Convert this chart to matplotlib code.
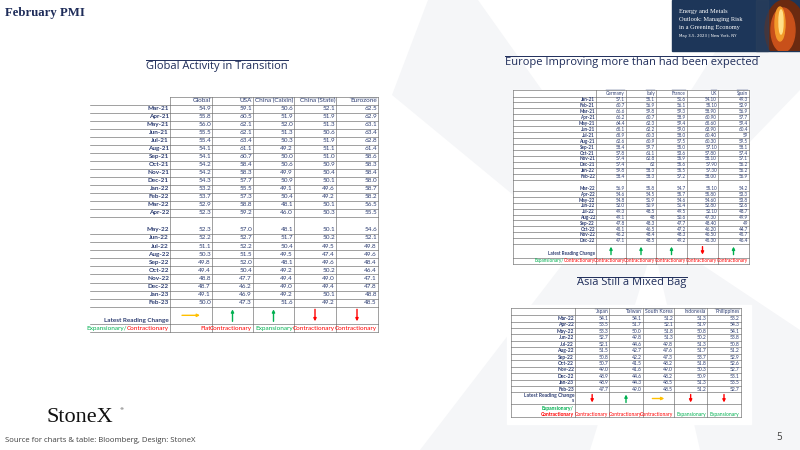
import matplotlib.pyplot as plt
from matplotlib.patches import Polygon, Rectangle, Ellipse

# ---------------- data: global table ----------------
g_rows = ['Mar-21', 'Apr-21', 'May-21', 'Jun-21', 'Jul-21', 'Aug-21', 'Sep-21', 'Oct-21',
          'Nov-21', 'Dec-21', 'Jan-22', 'Feb-22', 'Mar-22', 'Apr-22',
          'May-22', 'Jun-22', 'Jul-22', 'Aug-22', 'Sep-22', 'Oct-22', 'Nov-22', 'Dec-22',
          'Jan-23', 'Feb-23']
g_cols = ['Global', 'USA', 'China (Caixin)', 'China (State)', 'Eurozone']
g_global = [54.9, 55.8, 56.0, 55.5, 55.4, 54.1, 54.1, 54.2, 54.2, 54.3, 53.2, 53.7, 52.9, 52.3,
            52.3, 52.2, 51.1, 50.3, 49.8, 49.4, 48.8, 48.7, 49.1, 50.0]
g_usa = [59.1, 60.5, 62.1, 62.1, 63.4, 61.1, 60.7, 58.4, 58.3, 57.7, 55.5, 57.3, 58.8, 59.2,
         57.0, 52.7, 52.2, 51.5, 52.0, 50.4, 47.7, 46.2, 46.9, 47.3]
g_caixin = [50.6, 51.9, 52.0, 51.3, 50.3, 49.2, 50.0, 50.6, 49.9, 50.9, 49.1, 50.4, 48.1, 46.0,
            48.1, 51.7, 50.4, 49.5, 48.1, 49.2, 49.4, 49.0, 49.2, 51.6]
g_state = [52.1, 51.9, 51.3, 50.6, 51.9, 51.1, 51.0, 50.9, 50.4, 50.1, 49.6, 49.2, 50.1, 50.3,
           50.1, 50.2, 49.5, 47.4, 49.6, 50.2, 49.0, 49.4, 50.1, 49.2]
g_euro = [62.5, 62.9, 63.1, 63.4, 62.8, 61.4, 58.6, 58.3, 58.4, 58.0, 58.7, 58.2, 56.5, 55.5,
          54.6, 52.1, 49.8, 49.6, 48.4, 46.4, 47.1, 47.8, 48.8, 48.5]
g_change = ['flat', 'up', 'up', 'down', 'down']
g_status = ['Flat', 'Contractionary', 'Expansionary', 'Contractionary', 'Contractionary']

# ---------------- data: europe table ----------------
e_rows = ['Jan-21', 'Feb-21', 'Mar-21', 'Apr-21', 'May-21', 'Jun-21', 'Jul-21', 'Aug-21',
          'Sep-21', 'Oct-21', 'Nov-21', 'Dec-21', 'Jan-22', 'Feb-22',
          'Mar-22', 'Apr-22', 'May-22', 'Jun-22', 'Jul-22', 'Aug-22', 'Sep-22', 'Oct-22',
          'Nov-22', 'Dec-22']
e_cols = ['Germany', 'Italy', 'France', 'UK', 'Spain']
e_germany = ['57.1', '60.7', '66.6', '66.2', '64.4', '65.1', '65.9', '62.6', '58.4', '57.8', '57.4',
             '57.4', '59.8', '58.4', '56.9', '54.6', '54.8', '52.0', '49.3', '49.1', '47.8', '45.1',
             '46.2', '47.1']
e_italy = ['55.1', '56.9', '59.8', '60.7', '62.3', '62.2', '60.3', '60.9', '59.7', '61.1', '62.8',
           '62', '58.3', '58.3', '55.8', '54.5', '51.9', '50.9', '48.5', '48', '48.3', '46.5',
           '48.4', '48.5']
e_france = ['51.6', '56.1', '59.3', '58.9', '59.4', '59.0', '58.0', '57.5', '55.0', '53.6', '55.9',
            '55.6', '55.5', '57.2', '54.7', '55.7', '54.6', '51.4', '49.5', '50.6', '47.7', '47.2',
            '48.3', '49.2']
e_uk = ['54.10', '55.10', '58.90', '60.90', '65.60', '63.90', '60.40', '60.30', '57.10', '57.80',
        '58.10', '57.90', '57.30', '58.00', '55.10', '55.80', '54.60', '52.80', '52.10', '47.30',
        '48.40', '46.20', '46.50', '45.30']
e_spain = ['49.3', '52.9', '56.9', '57.7', '59.4', '60.4', '59', '59.5', '58.1', '57.4', '57.1',
           '56.2', '56.2', '56.9', '54.2', '53.3', '53.8', '52.6', '48.7', '49.9', '49', '44.7',
           '45.7', '46.4']
e_change = ['up', 'up', 'up', 'down', 'up']
e_status = ['Contractionary'] * 5

# ---------------- data: asia table ----------------
a_rows = ['Mar-22', 'Apr-22', 'May-22', 'Jun-22', 'Jul-22', 'Aug-22', 'Sep-22', 'Oct-22',
          'Nov-22', 'Dec-22', 'Jan-23', 'Feb-23']
a_cols = ['Japan', 'Taiwan', 'South Korea', 'Indonesia', 'Philippines']
a_japan = [54.1, 53.5, 53.3, 52.7, 52.1, 51.5, 50.8, 50.7, 49.0, 48.9, 48.9, 47.7]
a_taiwan = [54.1, 51.7, 50.0, 49.8, 44.6, 42.7, 42.2, 41.5, 41.6, 44.6, 44.3, 49.0]
a_korea = [51.2, 52.1, 51.8, 51.3, 49.8, 47.6, 47.3, 48.2, 49.0, 48.2, 48.5, 48.5]
a_indo = [51.3, 51.9, 50.8, 50.2, 51.3, 51.7, 53.7, 51.8, 50.3, 50.9, 51.3, 51.2]
a_phil = [53.2, 54.3, 54.1, 53.8, 50.8, 51.2, 52.9, 52.6, 52.7, 53.1, 53.5, 52.7]
a_change = ['down', 'up', 'flat', 'down', 'down']
a_status = ['Contractionary', 'Contractionary', 'Contractionary', 'Expansionary', 'Expansionary']

NAVY = '#1f2d5a'
CELL = '#2f3f73'
LINE = '#6b6b6b'
GREEN = '#00b050'
RED = '#ff0000'
YEL = '#ffc000'
WM = '#f5f6f8'

fig = plt.figure(figsize=(8, 4.5), dpi=100)
ax = fig.add_axes([0, 0, 1, 1])
ax.set_xlim(0, 800)
ax.set_ylim(450, 0)
ax.axis('off')
renderer = fig.canvas.get_renderer()


def text_box(t):
    bb = t.get_window_extent(renderer).transformed(ax.transData.inverted())
    return bb


def underline(t, lw=0.5, color=None):
    bb = text_box(t)
    ax.plot([bb.x0, bb.x1], [bb.y1 - 0.3, bb.y1 - 0.3], color=color or t.get_color(), lw=lw)


# watermark X (faint)
ax.add_patch(Polygon([(428, 0), (478, 0), (620, 200), (580, 250), (392, 95)], color=WM, lw=0, zorder=0))
ax.add_patch(Polygon([(748, 0), (800, 0), (800, 90), (660, 235), (625, 195)], color=WM, lw=0, zorder=0))
ax.add_patch(Polygon([(585, 235), (655, 240), (590, 450), (420, 450)], color=WM, lw=0, zorder=0))
ax.add_patch(Polygon([(650, 230), (800, 330), (800, 450), (700, 450)], color=WM, lw=0, zorder=0))

# header
ax.text(5, 13, 'February PMI', family='Liberation Serif', weight='bold', fontsize=9.2,
        color=NAVY, va='center')

# banner image
banner = Rectangle((672, 0), 128, 51, color='#1d3659', zorder=2)
ax.add_patch(banner)
for (cx, cy, w, h, c) in [(785, 30, 40, 60, '#6b2a10'), (783, 30, 24, 44, '#c8501a'),
                          (780, 24, 10, 34, '#f39a2a'), (781, 22, 4, 24, '#ffe08a')]:
    el = Ellipse((cx, cy), w, h, color=c, zorder=2)
    ax.add_patch(el)
    el.set_clip_path(banner)
ax.add_patch(Rectangle((756, 0), 12, 51, color='#2b3f5c', alpha=0.6, zorder=2))
for k, line in enumerate(['Energy and Metals', 'Outlook: Managing Risk', 'in a Greening Economy']):
    ax.text(679, 12 + k * 7.5, line, family='Liberation Serif', fontsize=4.6, color='white',
            va='center', zorder=3)
ax.text(679, 35.5, 'May 3-5, 2023 | New York, NY', family='Liberation Sans Narrow', fontsize=2.8,
        color='white', va='center', zorder=3)

# titles
for txt, xc, yc in [('Global Activity in Transition', 217, 66),
                    ('Europe Improving more than had been expected', 632, 62),
                    ('Asia Still a Mixed Bag', 632, 283)]:
    t = ax.text(xc, yc, txt, family='Open Sans', fontsize=8, color=NAVY, ha='center', va='center')
    underline(t, lw=0.7)


def draw_table(x_edges, y_top, heights, tall_idx, rows, cols, values, change, status, fs,
               border, exp_two_lines=False, latest_label='Latest Reading Change', arrow_len=10):
    edges = [y_top]
    for h in heights:
        edges.append(edges[-1] + h)
    xl, xr = x_edges[0], x_edges[-1]
    ax.add_patch(Rectangle((xl, y_top), xr - xl, edges[-1] - y_top, color='white', zorder=1))
    # horizontal lines
    for i, yv in enumerate(edges):
        x_start = x_edges[1] if (i == 0 and not border) else xl
        ax.plot([x_start, xr], [yv, yv], color=LINE, lw=0.45, zorder=3)
    # vertical lines
    for j, xv in enumerate(x_edges):
        if j == 0 and not border:
            continue
        ax.plot([xv, xv], [y_top, edges[-1]], color=LINE, lw=0.45, zorder=3)
    # header
    hy = (edges[0] + edges[1]) / 2
    for j, c in enumerate(cols):
        t = ax.text(x_edges[j + 2] - 1, hy, c, fontsize=fs, family='Lato', color=CELL,
                    ha='right', va='center', zorder=4)
        underline(t, lw=0.3)
    # data rows
    for i, r in enumerate(rows):
        y0, y1 = edges[i + 1], edges[i + 2]
        yc = y1 - (edges[2] - edges[1]) / 2 if i == tall_idx else (y0 + y1) / 2
        ax.text(x_edges[1] - 1, yc, r, fontsize=fs, family='Lato', weight='bold', color=CELL,
                ha='right', va='center', zorder=4)
        for j in range(len(cols)):
            ax.text(x_edges[j + 2] - 1, yc, values[j][i], fontsize=fs, family='Lato', color=CELL,
                    ha='right', va='center', zorder=4)
    # latest change row
    n = len(rows)
    ly0, ly1 = edges[n + 1], edges[n + 2]
    ax.text(x_edges[1] - 1, ly1 - 1, latest_label, fontsize=fs, family='Lato', weight='bold',
            color=CELL, ha='right', va='bottom', linespacing=1.0, zorder=4)
    lc = (ly0 + ly1) / 2
    for j, ch in enumerate(change):
        xc = (x_edges[j + 1] + x_edges[j + 2]) / 2
        if ch == 'up':
            s, e, col = (xc, lc + arrow_len / 2), (xc, lc - arrow_len / 2), GREEN
        elif ch == 'down':
            s, e, col = (xc, lc - arrow_len / 2), (xc, lc + arrow_len / 2), RED
        else:
            s, e, col = (xc - arrow_len * 0.75, lc), (xc + arrow_len * 0.75, lc), YEL
        ax.annotate('', xy=e, xytext=s,
                    arrowprops=dict(arrowstyle='-|>', color=col, lw=1.0, mutation_scale=4,
                                    shrinkA=0, shrinkB=0), zorder=5)
    # expansionary row
    ey0, ey1 = edges[n + 2], edges[n + 3]
    ec = (ey0 + ey1) / 2
    if exp_two_lines:
        ax.text(x_edges[1] - 1, ey0 + (ey1 - ey0) * 0.3, 'Expansionary/', fontsize=fs,
                family='Lato', weight='bold', color=GREEN, ha='right', va='center', zorder=4)
        ax.text(x_edges[1] - 1, ey0 + (ey1 - ey0) * 0.78, 'Contractionary', fontsize=fs,
                family='Lato', weight='bold', color=RED, ha='right', va='center', zorder=4)
    else:
        t = ax.text(x_edges[1] - 1, ec, 'Contractionary', fontsize=fs, family='Lato',
                    color=RED, ha='right', va='center', zorder=4)
        bb = text_box(t)
        ax.text(bb.x0, ec, 'Expansionary/', fontsize=fs, family='Lato', color=GREEN,
                ha='right', va='center', zorder=4)
    ey_txt = ey0 + (ey1 - ey0) * 0.78 if exp_two_lines else ec
    for j, st in enumerate(status):
        col = GREEN if st == 'Expansionary' else RED
        ax.text(x_edges[j + 2] - 1, ey_txt, st, fontsize=fs, family='Lato', color=col,
                ha='right', va='center', zorder=4)


# global table
g_vals = [['%.1f' % v for v in s] for s in (g_global, g_usa, g_caixin, g_state, g_euro)]
g_heights = [8.0] + [8.03] * 14 + [17.0] + [8.1] * 9 + [17.0, 8.5]
draw_table([90, 170, 212, 253, 294, 336, 378], 96.5, g_heights, 14, g_rows, g_cols, g_vals,
           g_change, g_status, 4.6, border=False, arrow_len=12)

# europe table
e_vals = [e_germany, e_italy, e_france, e_uk, e_spain]
e_heights = [6.5] + [5.95] * 14 + [11.7] + [5.8] * 9 + [13.8, 6.0]
draw_table([513, 596, 626, 656, 687, 718, 749], 90, e_heights, 14, e_rows, e_cols, e_vals,
           e_change, e_status, 3.3, border=True, arrow_len=8)

# asia table
ax.add_patch(Rectangle((507, 305), 244, 119, color='white', zorder=1))
a_vals = [['%.1f' % v for v in s] for s in (a_japan, a_taiwan, a_korea, a_indo, a_phil)]
a_heights = [7.1] + [6.45] * 12 + [12.0, 12.8]
draw_table([511, 575, 609.3, 642.7, 674, 707.3, 740.7], 308, a_heights, -1, a_rows, a_cols,
           a_vals, a_change, a_status, 3.6, border=True, exp_two_lines=True,
           latest_label='Latest Reading Change\ns', arrow_len=8)

# footer
ax.text(47, 417, 'StoneX', family='Liberation Serif', fontsize=16, color='#111111', va='center')
ax.text(119, 409, '\u00ae', fontsize=3, color='#111111', va='center')
ax.text(5, 441, 'Source for charts & table: Bloomberg, Design: StoneX', family='Open Sans',
        fontsize=5.6, color='#404040', va='center')
ax.text(776, 437, '5', family='Open Sans', fontsize=7, color='#404040', va='center')

fig.savefig('out.png', dpi=100)
